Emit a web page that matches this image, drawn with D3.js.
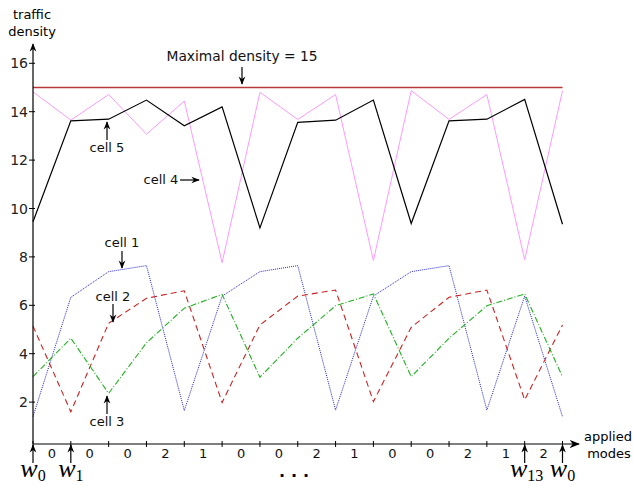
<!DOCTYPE html>
<html><head><meta charset="utf-8">
<script src="https://cdn.jsdelivr.net/npm/d3@7"></script>
<style>
body{margin:0;background:#fff;}
text{font-family:"DejaVu Sans",Verdana,sans-serif;}
text.math{font-family:"Liberation Serif","Times New Roman",serif;}
</style></head>
<body><svg id="c" width="634" height="485"></svg>
<script>
const steps = d3.range(0, 15);
const modes = ["0","0","0","2","1","0","0","2","1","0","0","2","1","2"];
const yTicks = [2,4,6,8,10,12,14,16];
const maxDensity = 15;
const cell1 = [1.40,6.33,7.39,7.64,1.65,6.38,7.39,7.64,1.67,6.38,7.39,7.64,1.67,6.38,1.40];
const cell2 = [5.14,1.60,5.26,6.29,6.60,1.98,5.19,6.38,6.63,2.02,5.09,6.33,6.63,2.09,5.19];
const cell3 = [3.05,4.64,2.36,4.45,5.88,6.45,3.03,4.64,5.98,6.47,3.05,4.64,5.98,6.47,3.05];
const cell4 = [14.82,13.65,14.71,13.07,14.44,7.76,14.80,13.68,14.71,7.85,14.87,13.68,14.71,7.88,14.87];
const cell5 = [9.45,13.62,13.69,14.48,13.42,14.20,9.20,13.56,13.65,14.48,9.38,13.62,13.69,14.51,9.35];

const svg = d3.select("#c");
const x = d3.scaleLinear().domain([0,14]).range([33,562.5]);
const y = d3.scaleLinear().domain([0,16]).range([450.5,63.3]);
const yBase = 0.27;

const defs = svg.append("defs");
defs.append("marker").attr("id","ah").attr("viewBox","0 0 10 10").attr("refX",9).attr("refY",5)
  .attr("markerWidth",7).attr("markerHeight",7).attr("orient","auto-start-reverse")
  .append("path").attr("d","M0,1 L10,5 L0,9 L3,5 Z").attr("fill","#000");

// max density line
svg.append("line").attr("x1",x(0)).attr("x2",x(14)).attr("y1",y(maxDensity)).attr("y2",y(maxDensity))
  .attr("stroke","#b83838").attr("stroke-width",1.3);

const line = d3.line().x((d,i)=>x(i)).y(d=>y(d));
const series = [
  {data:cell4, color:"#ff99ff", dash:null, w:1},
  {data:cell5, color:"#000", dash:null, w:1.2},
  {data:cell1, color:"#2525d0", dash:"1,1", w:1},
  {data:cell2, color:"#cc2222", dash:"6,4", w:1.1},
  {data:cell3, color:"#22b022", dash:"6,2,1,2", w:1.1}
];
series.forEach(s=>{
  svg.append("path").datum(s.data).attr("d",line).attr("fill","none")
    .attr("stroke",s.color).attr("stroke-width",s.w).attr("stroke-dasharray",s.dash);
});

// y axis
svg.append("line").attr("x1",x(0)).attr("x2",x(0)).attr("y1",y(yBase)).attr("y2",44)
  .attr("stroke","#000").attr("stroke-width",1.2).attr("marker-end","url(#ah)");
const yAxis = svg.append("g");
yTicks.forEach(t=>{
  yAxis.append("line").attr("x1",x(0)-4).attr("x2",x(0)+2).attr("y1",y(t)).attr("y2",y(t)).attr("stroke","#000");
  yAxis.append("text").attr("x",x(0)-5).attr("y",y(t)+5).attr("text-anchor","end").attr("font-size",14).attr("fill","#222").text(t);
});
svg.append("text").attr("x",32).attr("y",19).attr("text-anchor","middle").attr("font-size",13).text("traffic");
svg.append("text").attr("x",32).attr("y",36).attr("text-anchor","middle").attr("font-size",13).text("density");

// x axis
svg.append("line").attr("x1",x(0)).attr("x2",579).attr("y1",y(yBase)).attr("y2",y(yBase))
  .attr("stroke","#555").attr("stroke-width",1.5).attr("marker-end","url(#ah)");
steps.forEach(i=>{
  svg.append("line").attr("x1",x(i)).attr("x2",x(i)).attr("y1",y(yBase)-3).attr("y2",y(yBase)+3).attr("stroke","#000");
});
modes.forEach((m,i)=>{
  svg.append("text").attr("x",x(i+0.5)).attr("y",458).attr("text-anchor","middle").attr("font-size",13).attr("fill","#111").text(m);
});
svg.append("text").attr("x",608).attr("y",441).attr("text-anchor","middle").attr("font-size",13).text("applied");
svg.append("text").attr("x",609).attr("y",458).attr("text-anchor","middle").attr("font-size",13).text("modes");

// w labels
const wLabels = [{i:0,sub:"0"},{i:1,sub:"1"},{i:13,sub:"13"},{i:14,sub:"0"}];
wLabels.forEach(w=>{
  svg.append("line").attr("x1",x(w.i)).attr("x2",x(w.i)).attr("y1",463).attr("y2",y(yBase)+1)
    .attr("stroke","#000").attr("stroke-width",1.2).attr("marker-end","url(#ah)");
  const t = svg.append("text").attr("class","math").attr("x",x(w.i)+(w.sub.length>1?2:0)).attr("y",477)
    .attr("text-anchor","middle").attr("font-size",26);
  t.append("tspan").attr("font-style","italic").text("w");
  t.append("tspan").attr("font-size",16).attr("dy",4).text(w.sub);
});
svg.append("text").attr("x",297).attr("y",481).attr("text-anchor","middle").attr("font-size",16)
  .attr("letter-spacing",6).attr("font-weight","bold").text("···");

// annotations
function ann(tx,ty,label,x1,y1,x2,y2,fs){
  svg.append("text").attr("x",tx).attr("y",ty).attr("text-anchor","middle").attr("font-size",fs||13).attr("fill","#111").text(label);
  svg.append("line").attr("x1",x1).attr("y1",y1).attr("x2",x2).attr("y2",y2)
    .attr("stroke","#000").attr("stroke-width",1.2).attr("marker-end","url(#ah)");
}
ann(242,61,"Maximal density = 15",242,67,242,84,13.8);
ann(107,152,"cell 5",107,140,107,122);
ann(161,184,"cell 4",180,180,199,180);
ann(122,247,"cell 1",122,251,122,268);
ann(113,301,"cell 2",113,304,113,322);
ann(107,426,"cell 3",107,414,107,396);
</script></body></html>
